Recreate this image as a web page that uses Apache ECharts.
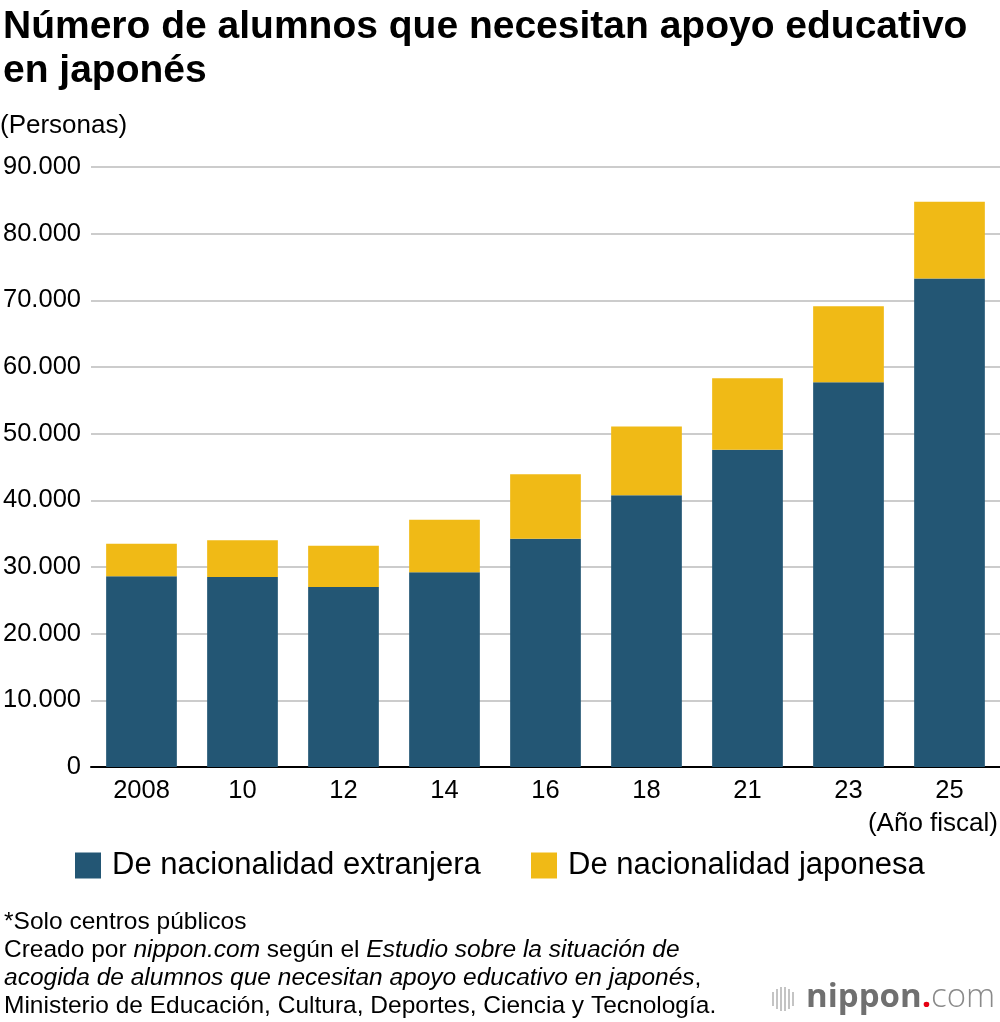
<!DOCTYPE html>
<html>
<head>
<meta charset="utf-8">
<script src="https://cdn.jsdelivr.net/npm/echarts@6/dist/echarts.min.js"></script>
<style>
html,body{margin:0;padding:0;background:#fff}
#chart{width:1000px;height:1022px}
</style>
</head>
<body>
<div id="chart"></div>
<script>
// datos (personas)
var years = ['2008', '10', '12', '14', '16', '18', '21', '23', '25'];
var extranjera = [28600, 28500, 27000, 29200, 34250, 40770, 47600, 57700, 73270];
var japonesa = [4900, 5500, 6200, 7900, 9650, 10300, 10700, 11400, 11510];
var names = ['De nacionalidad extranjera', 'De nacionalidad japonesa'];

var font = '"Liberation Sans", Arial, sans-serif';

function miles(v) {
	return String(v).replace(/\B(?=(\d{3})+(?!\d))/g, '.');
}

var legendText = { fontSize: 31, color: '#000', fontFamily: font, padding: [0, 0, 0, 6] };

var chart = echarts.init(document.getElementById('chart'));
var option = {
	animation: false,
	textStyle: { fontFamily: font },
	title: {
		text: 'Número de alumnos que necesitan apoyo educativo\nen japonés',
		left: 3,
		top: 5,
		padding: 0,
		textStyle: { fontSize: 39, fontWeight: 'bold', color: '#000', lineHeight: 44, fontFamily: font }
	},
	grid: { left: 90, right: 0, top: 167, bottom: 255, containLabel: false },
	legend: [{
		left: 75, top: 850, padding: 0,
		itemWidth: 26, itemHeight: 26, icon: 'rect',
		textStyle: legendText,
		data: [names[0]]
	}, {
		left: 531, top: 850, padding: 0,
		itemWidth: 26, itemHeight: 26, icon: 'rect',
		textStyle: legendText,
		data: [names[1]]
	}],
	xAxis: {
		type: 'category',
		data: years,
		axisLine: { lineStyle: { color: '#000', width: 2 } },
		axisTick: { show: false },
		axisLabel: { fontSize: 25.5, color: '#000', margin: 11, fontFamily: font }
	},
	yAxis: {
		type: 'value',
		min: 0,
		max: 90000,
		interval: 10000,
		axisLine: { show: false },
		axisTick: { show: false },
		splitLine: { lineStyle: { color: '#cccccc', width: 2 } },
		axisLabel: { fontSize: 25.5, color: '#000', margin: 10, fontFamily: font, formatter: miles }
	},
	series: [{
		name: names[0],
		type: 'bar',
		stack: 'total',
		barWidth: '70%',
		itemStyle: { color: '#235674' },
		data: extranjera
	}, {
		name: names[1],
		type: 'bar',
		stack: 'total',
		itemStyle: { color: '#F0BA16' },
		data: japonesa
	}],
	graphic: [
		{ type: 'text', left: 0, top: 113, style: { text: '(Personas)', font: '26px ' + font, fill: '#000' } },
		{ type: 'text', right: 2, top: 811, style: { text: '(Año fiscal)', font: '26px ' + font, fill: '#000' } },
		{
			type: 'text', left: 4, top: 908,
			style: {
				text: '*Solo centros públicos\n' +
					'Creado por {i|nippon.com} según el {i|Estudio sobre la situación de}\n' +
					'{i|acogida de alumnos que necesitan apoyo educativo en japonés},\n' +
					'Ministerio de Educación, Cultura, Deportes, Ciencia y Tecnología.',
				font: '24.5px ' + font,
				fill: '#000',
				lineHeight: 28,
				rich: { i: { fontStyle: 'italic', fontSize: 24.5, fontFamily: font, fill: '#000', lineHeight: 28 } }
			}
		},
		// logo
		{ type: 'rect', shape: { x: 772, y: 992, width: 2, height: 14 }, style: { fill: '#c4c4c4' } },
		{ type: 'rect', shape: { x: 776, y: 989, width: 2, height: 20 }, style: { fill: '#c4c4c4' } },
		{ type: 'rect', shape: { x: 780, y: 987, width: 2, height: 24 }, style: { fill: '#c4c4c4' } },
		{ type: 'rect', shape: { x: 784, y: 987, width: 2, height: 24 }, style: { fill: '#c4c4c4' } },
		{ type: 'rect', shape: { x: 788, y: 989, width: 2, height: 20 }, style: { fill: '#c4c4c4' } },
		{ type: 'rect', shape: { x: 792, y: 992, width: 2, height: 14 }, style: { fill: '#c4c4c4' } },
		{
			type: 'text', left: 806, top: 981,
			style: {
				text: '{b|nippon}{r|.}{c|com}',
				rich: {
					b: { fontSize: 33, fontWeight: 'bold', fontFamily: '"Open Sans", sans-serif', fill: '#707070' },
					r: { fontSize: 33, fontWeight: 'bold', fontFamily: '"Open Sans", sans-serif', fill: '#e60012' },
					c: { fontSize: 33, fontWeight: 300, fontFamily: '"Open Sans", sans-serif', fill: '#8a8a8a' }
				}
			}
		}
	]
};
chart.setOption(option);
</script>
</body>
</html>
